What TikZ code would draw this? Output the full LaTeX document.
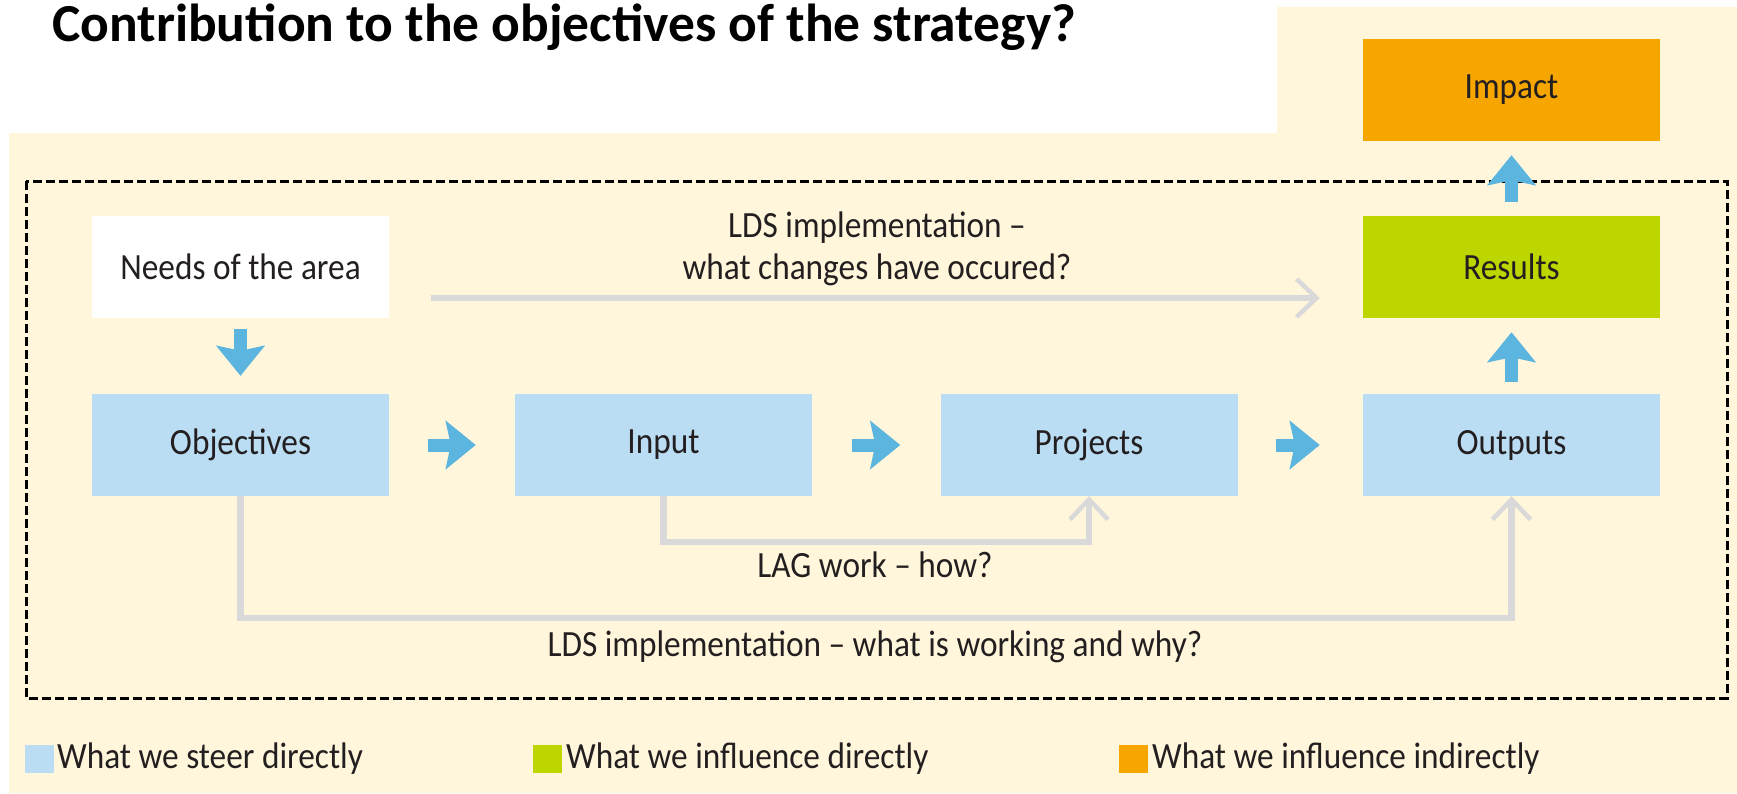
\documentclass[tikz,border=0pt]{standalone}
\usepackage{fontspec}
\setmainfont{Carlito}
\newfontfamily\bodyfont[FakeStretch=0.9,Ligatures=TeX]{Carlito}
\usetikzlibrary{arrows.meta}
\definecolor{cream}{HTML}{FFF6DB}
\definecolor{boxblue}{HTML}{BBDDF3}
\definecolor{arrowblue}{HTML}{5BB5DF}
\definecolor{resgreen}{HTML}{BED600}
\definecolor{imporange}{HTML}{F7A600}
\definecolor{linegray}{HTML}{D9D9D9}
\definecolor{txt}{HTML}{231F20}
\begin{document}
\begin{tikzpicture}[x=1pt,y=-1pt,
  box/.style={minimum width=297pt, minimum height=102pt, inner sep=0pt,
    font=\bodyfont\fontsize{37}{44}\selectfont, text=txt},
  lbl/.style={inner sep=0pt, font=\bodyfont\fontsize{37}{42}\selectfont, text=txt, align=center},
  bluearrow/.style={draw=arrowblue, line width=13pt,
    -{Stealth[length=30pt,width=48pt,inset=5pt]}},
  grayline/.style={draw=linegray, line width=6.5pt,
    -{Straight Barb[length=20pt,width=38pt,line width=4.5pt]}},
  legsq/.style={minimum width=29pt, minimum height=28pt, inner sep=0pt},
  legtxt/.style={anchor=west, inner sep=0pt, font=\bodyfont\fontsize{37}{42}\selectfont, text=txt}
]
\useasboundingbox (0,0) rectangle (1737,793);
\fill[white] (0,0) rectangle (1737,793);
\fill[cream] (9,133) -- (1277,133) -- (1277,7) -- (1737,7) -- (1737,793) -- (9,793) -- cycle;

\node[anchor=base west, inner sep=0pt, font=\bfseries\fontsize{53.5}{60}\selectfont] (title) at (52,41)
  {Contribution to the objectives of the strategy?};

\draw[black, line width=3pt, dash pattern=on 9pt off 4pt] (26,181) rectangle (1727,698);

\node[box, fill=white] (needs) at (240.5,267) {Needs of the area};
\node[box, fill=boxblue] (obj) at (240.5,445) {Objectives};
\node[box, fill=boxblue] (input) at (663.5,445) {Input};
\node[box, fill=boxblue] (proj) at (1089,445) {Projects};
\node[box, fill=boxblue] (outputs) at (1511.5,445) {Outputs};
\node[box, fill=resgreen] (results) at (1511.5,267) {Results};
\node[box, fill=imporange] (impact) at (1511.5,90) {Impact};

% gray connectors
\draw[grayline] ([shift={(42,31)}]needs.east) -- ([shift={(-43,31)}]results.west);
\draw[grayline] (obj.south) -- ++(0,122) -| (outputs.south);
\draw[grayline] (input.south) -- ++(0,46) -| (proj.south);

\node[lbl] (lds1) at (877,249) {LDS implementation –\\what changes have occured?};
\node[lbl] (lag) at (875,565) {LAG work – how?};
\node[lbl] (lds2) at (875,647) {LDS implementation – what is working and why?};

% blue arrows
\draw[bluearrow, shorten <=11pt, shorten >=18pt] (needs) -- (obj);
\draw[bluearrow, shorten <=39pt, shorten >=39pt] (obj) -- (input);
\draw[bluearrow, shorten <=40pt, shorten >=40pt] (input) -- (proj);
\draw[bluearrow, shorten <=38pt, shorten >=43pt] (proj) -- (outputs);
\draw[bluearrow, shorten <=12pt, shorten >=14pt] (outputs) -- (results);
\draw[bluearrow, shorten <=14pt, shorten >=14pt] (results) -- (impact);

% legend
\node[legsq, fill=boxblue] (sq1) at (39,759) {};
\node[legtxt] (lt1) at (57,759) {What we steer directly};
\node[legsq, fill=resgreen] (sq2) at (547.5,759) {};
\node[legtxt] (lt2) at (566,759) {What we influence directly};
\node[legsq, fill=imporange] (sq3) at (1133.5,759) {};
\node[legtxt] (lt3) at (1152,759) {What we influence indirectly};
\end{tikzpicture}
\end{document}
